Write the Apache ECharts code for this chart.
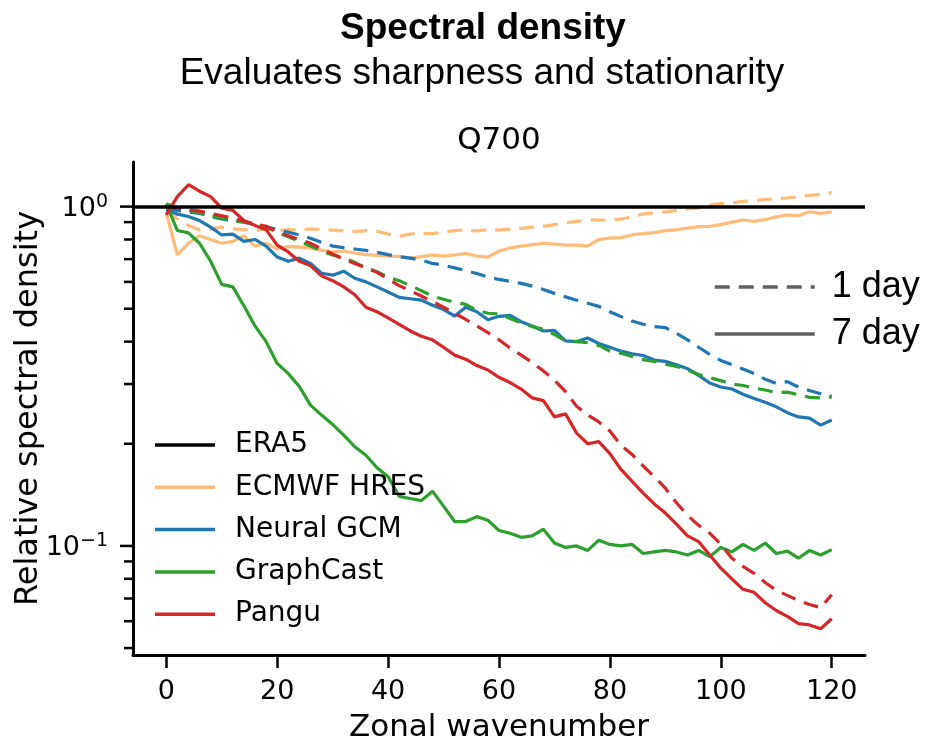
<!DOCTYPE html>
<html>
<head>
<meta charset="utf-8">
<script src="https://cdn.jsdelivr.net/npm/echarts@6/dist/echarts.min.js"></script>
<style>
  html, body { margin: 0; padding: 0; background: #fff; }
  #chart { width: 926px; height: 745px; }
</style>
</head>
<body>
<div id="chart"></div>
<script>
// Zonal wavenumbers (every second wavenumber)
const wavenumbers = [0,2,4,6,8,10,12,14,16,18,20,22,24,26,28,30,32,34,36,38,40,42,44,46,48,50,52,54,56,58,60,62,64,66,68,70,72,74,76,78,80,82,84,86,88,90,92,94,96,98,100,102,104,106,108,110,112,114,116,118,120];

// Relative spectral density, 1-day lead (dashed) and 7-day lead (solid)
const hres1 = [0.97,0.92,0.88,0.855,0.86,0.87,0.86,0.855,0.85,0.86,0.85,0.855,0.853,0.86,0.855,0.853,0.848,0.844,0.85,0.845,0.83,0.818,0.83,0.835,0.832,0.84,0.85,0.853,0.848,0.855,0.853,0.858,0.863,0.87,0.874,0.885,0.895,0.905,0.914,0.912,0.914,0.918,0.935,0.95,0.958,0.965,0.975,0.985,0.99,1.01,1.02,1.025,1.037,1.04,1.05,1.055,1.06,1.07,1.08,1.085,1.1];
const hres7 = [0.96,0.72,0.78,0.82,0.8,0.78,0.79,0.82,0.765,0.78,0.75,0.762,0.76,0.754,0.745,0.736,0.74,0.73,0.722,0.718,0.715,0.713,0.705,0.712,0.72,0.715,0.72,0.728,0.715,0.71,0.74,0.755,0.765,0.773,0.78,0.775,0.77,0.77,0.765,0.8,0.807,0.81,0.825,0.833,0.838,0.85,0.855,0.864,0.873,0.875,0.885,0.9,0.913,0.905,0.915,0.933,0.945,0.94,0.965,0.955,0.965];
const neural1 = [0.99,0.975,0.965,0.955,0.935,0.92,0.91,0.9,0.885,0.872,0.855,0.84,0.825,0.807,0.785,0.765,0.757,0.75,0.743,0.733,0.722,0.712,0.705,0.695,0.68,0.672,0.66,0.648,0.635,0.62,0.61,0.602,0.594,0.583,0.57,0.555,0.542,0.53,0.519,0.508,0.49,0.474,0.46,0.45,0.443,0.44,0.423,0.405,0.385,0.367,0.352,0.342,0.332,0.322,0.31,0.301,0.305,0.294,0.287,0.281,0.276];
const neural7 = [0.98,0.95,0.935,0.91,0.87,0.825,0.83,0.79,0.8,0.765,0.71,0.69,0.705,0.68,0.636,0.628,0.645,0.615,0.6,0.58,0.56,0.54,0.535,0.53,0.512,0.497,0.476,0.505,0.49,0.464,0.475,0.478,0.458,0.445,0.43,0.432,0.402,0.4,0.41,0.395,0.385,0.375,0.368,0.364,0.353,0.35,0.342,0.333,0.318,0.302,0.294,0.29,0.28,0.272,0.265,0.257,0.247,0.24,0.238,0.227,0.235];
const graphcast1 = [1.02,0.99,0.975,0.96,0.94,0.925,0.91,0.9,0.89,0.87,0.84,0.815,0.79,0.765,0.74,0.72,0.705,0.685,0.66,0.643,0.62,0.605,0.585,0.565,0.545,0.533,0.522,0.515,0.495,0.485,0.483,0.468,0.455,0.443,0.435,0.42,0.402,0.4,0.397,0.39,0.375,0.37,0.362,0.354,0.35,0.343,0.338,0.33,0.32,0.313,0.307,0.3,0.297,0.292,0.288,0.283,0.284,0.279,0.274,0.273,0.275];
const graphcast7 = [1.02,0.85,0.837,0.78,0.69,0.59,0.58,0.51,0.445,0.4,0.345,0.322,0.295,0.26,0.243,0.228,0.212,0.196,0.185,0.17,0.16,0.14,0.138,0.136,0.145,0.131,0.118,0.118,0.122,0.119,0.111,0.109,0.106,0.107,0.112,0.102,0.099,0.1,0.097,0.104,0.101,0.1,0.101,0.095,0.096,0.097,0.096,0.094,0.097,0.093,0.099,0.096,0.101,0.097,0.102,0.095,0.0965,0.092,0.097,0.094,0.0975];
const pangu1 = [1.0,0.99,0.98,0.97,0.955,0.94,0.925,0.905,0.89,0.875,0.845,0.82,0.8,0.78,0.75,0.725,0.7,0.68,0.66,0.64,0.612,0.585,0.565,0.545,0.525,0.505,0.485,0.465,0.445,0.425,0.405,0.383,0.365,0.347,0.328,0.308,0.285,0.258,0.243,0.232,0.218,0.198,0.186,0.172,0.16,0.148,0.134,0.123,0.115,0.109,0.101,0.092,0.087,0.083,0.078,0.074,0.0715,0.069,0.0672,0.0658,0.0718];
const pangu7 = [0.945,1.07,1.16,1.11,1.07,0.99,0.975,0.91,0.88,0.855,0.77,0.735,0.69,0.67,0.625,0.605,0.58,0.55,0.505,0.49,0.47,0.45,0.43,0.415,0.405,0.385,0.365,0.355,0.34,0.33,0.314,0.303,0.29,0.273,0.268,0.24,0.245,0.215,0.2,0.203,0.187,0.168,0.155,0.143,0.133,0.125,0.116,0.107,0.103,0.094,0.086,0.08,0.0745,0.073,0.068,0.0645,0.062,0.059,0.0585,0.057,0.061];

// Reference level (ERA5 relative to itself)
const era5Level = 1;

// Model names and colours
const models = ['ECMWF HRES', 'Neural GCM', 'GraphCast', 'Pangu'];
const modelColors = ['#ffbb78', '#1f77b4', '#2ca02c', '#d62728'];
const day1Values = [hres1, neural1, graphcast1, pangu1];
const day7Values = [hres7, neural7, graphcast7, pangu7];

// Axis ticks
const xTicks = [0, 20, 40, 60, 80, 100, 120];
const xMin = -6, xMax = 126;
const yMin = 0.0477, yMax = 1.3535;
const yMajorTicks = [0.1, 1];
const yMajorExponents = ['\u22121', '0'];
const yMinorTicks = [0.05, 0.06, 0.07, 0.08, 0.09, 0.2, 0.3, 0.4, 0.5, 0.6, 0.7, 0.8, 0.9];

const DASH = [15, 9];
const LW = 3.2;
const SANS = 'DejaVu Sans';
const ARIAL = 'Liberation Sans';

function pairs(values) {
  return wavenumbers.map((k, i) => [k, values[i]]);
}

function lineSeries(name, color, values, dashed) {
  return {
    type: 'line', name: name, color: color,
    data: pairs(values),
    symbol: 'none', showSymbol: false, silent: true, smooth: false,
    lineStyle: { color: color, width: LW, type: dashed ? DASH : 'solid', cap: 'butt' },
    z: 3
  };
}

function tickSeries(values, len, labels) {
  return {
    type: 'custom', silent: true, clip: false, z: 6,
    data: values.map(v => [xMin, v]),
    renderItem: function (params, api) {
      const p = api.coord([api.value(0), api.value(1)]);
      const children = [{
        type: 'line',
        shape: { x1: p[0] - len, y1: p[1], x2: p[0], y2: p[1] },
        style: { stroke: '#000', lineWidth: 2.5 }
      }];
      if (labels) {
        children.push({
          type: 'text',
          style: {
            text: '{b|10}{s|' + labels[params.dataIndex] + '}',
            x: p[0] - len - 12, y: p[1] + 1,
            align: 'right', verticalAlign: 'middle',
            rich: {
              b: { fontFamily: SANS, fontSize: 27, lineHeight: 30, fill: '#000', verticalAlign: 'bottom' },
              s: { fontFamily: SANS, fontSize: 19, lineHeight: 16, fill: '#000', verticalAlign: 'top' }
            }
          }
        });
      }
      return { type: 'group', children: children };
    }
  };
}

const series = [];
// ERA5 reference line across the full plot width
series.push({
  type: 'line', name: 'ERA5', color: '#000', data: [], symbol: 'none',
  lineStyle: { color: '#000', width: 3.5 },
  markLine: {
    silent: true, symbol: 'none', animation: false,
    label: { show: false },
    lineStyle: { color: '#000', width: 3.5, type: 'solid' },
    data: [{ yAxis: era5Level }]
  },
  z: 2
});
models.forEach((m, i) => {
  series.push(lineSeries(m, modelColors[i], day7Values[i], false));
  series.push(lineSeries(m, modelColors[i], day1Values[i], true));
});
// Lead-time key entries
series.push({ type: 'line', name: '1 day', color: '#606060', data: [], symbol: 'none', symbolSize: 0,
  itemStyle: { color: 'rgba(0,0,0,0)', borderWidth: 0 },
  lineStyle: { color: '#606060', width: 3.5, type: DASH } });
series.push({ type: 'line', name: '7 day', color: '#606060', data: [], symbol: 'none', symbolSize: 0,
  itemStyle: { color: 'rgba(0,0,0,0)', borderWidth: 0 },
  lineStyle: { color: '#606060', width: 3.5, type: 'solid' } });
// Log-axis ticks and labels
series.push(tickSeries(yMinorTicks, 9, null));
series.push(tickSeries(yMajorTicks, 13, yMajorExponents));

const chart = echarts.init(document.getElementById('chart'), null, { renderer: 'canvas' });
chart.setOption({
  animation: false,
  backgroundColor: '#fff',
  title: [
    { text: 'Spectral density', left: 483, top: 10, textAlign: 'center', padding: 0,
      textStyle: { fontFamily: ARIAL, fontWeight: 'bold', fontSize: 37, color: '#000' } },
    { text: 'Evaluates sharpness and stationarity', left: 482, top: 55, textAlign: 'center', padding: 0,
      textStyle: { fontFamily: ARIAL, fontWeight: 'normal', fontSize: 37, color: '#000' } },
    { text: 'Q700', left: 499, top: 125, textAlign: 'center', padding: 0,
      textStyle: { fontFamily: SANS, fontWeight: 'normal', fontSize: 31, color: '#000' } }
  ],
  grid: { left: 133, right: 61, top: 162, bottom: 90, containLabel: false, outerBoundsMode: 'none' },
  legend: [
    {
      data: ['ERA5'].concat(models),
      orient: 'vertical', left: 155, top: 430, padding: 0,
      icon: 'rect', itemWidth: 60, itemHeight: 3.5, itemGap: 12.3,
      selectedMode: false,
      textStyle: { fontFamily: SANS, fontSize: 28, color: '#000', lineHeight: 30, padding: [0, 0, 0, 15] }
    },
    {
      data: ['1 day', '7 day'],
      orient: 'vertical', left: 713, top: 269, padding: 0,
      itemWidth: 100, itemHeight: 6, itemGap: 11,
      selectedMode: false,
      itemStyle: { color: 'rgba(0,0,0,0)', borderWidth: 0, opacity: 0 },
      lineStyle: { width: 3.5, opacity: 1 },
      textStyle: { fontFamily: ARIAL, fontSize: 36, color: '#000', lineHeight: 36, padding: [0, 0, 0, 12] }
    }
  ],
  xAxis: {
    type: 'value', min: xMin, max: xMax,
    name: 'Zonal wavenumber', nameLocation: 'middle', nameGap: 57,
    nameTextStyle: { fontFamily: SANS, fontSize: 31, color: '#000', verticalAlign: 'top' },
    axisLine: { show: true, onZero: false, lineStyle: { color: '#000', width: 3 } },
    axisTick: { show: true, length: 13, customValues: xTicks, lineStyle: { color: '#000', width: 2.5 } },
    axisLabel: { show: true, customValues: xTicks, margin: 23, fontFamily: SANS, fontSize: 27, color: '#000' },
    splitLine: { show: false }
  },
  yAxis: {
    type: 'log', logBase: 10, min: yMin, max: yMax,
    name: 'Relative spectral density', nameLocation: 'middle', nameGap: 88, nameRotate: 90,
    nameTextStyle: { fontFamily: SANS, fontSize: 32, color: '#000' },
    axisLine: { show: true, onZero: false, lineStyle: { color: '#000', width: 3 } },
    axisTick: { show: false },
    axisLabel: { show: false },
    splitLine: { show: false },
    minorTick: { show: false }
  },
  series: series
});
</script>
</body>
</html>
